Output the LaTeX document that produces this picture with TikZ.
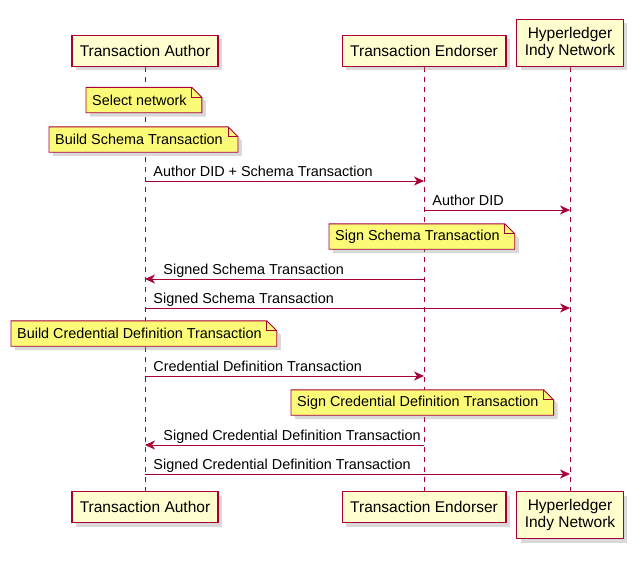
\documentclass[tikz,border=0pt]{standalone}
\usepackage{fontspec}
\setmainfont{Liberation Sans}
\usetikzlibrary{arrows.meta,shadows,backgrounds}
\definecolor{umlred}{HTML}{A80036}
\definecolor{umlbox}{HTML}{FEFECE}
\definecolor{umlnote}{HTML}{FBFB77}
\begin{document}
\begin{tikzpicture}[x=1pt,y=-1pt,>={Stealth[length=10pt,width=9pt,inset=3pt]},
participant/.style={draw=umlred,fill=umlbox,line width=1.4pt,inner xsep=8pt,inner ysep=0pt,minimum height=31pt,align=center,
  font=\fontsize{15.5}{16.5}\selectfont,drop shadow={shadow xshift=4pt,shadow yshift=-4pt,opacity=.3}},
note/.style={anchor=west,inner xsep=6pt,inner ysep=0pt,minimum height=25pt,font=\fontsize{14.4}{16}\selectfont},
notebg/.style={draw=umlred,fill=umlnote,line width=.9pt,drop shadow={shadow xshift=4pt,shadow yshift=-4pt,opacity=.3}},
lifeline/.style={draw=umlred,line width=.9pt,dash pattern=on 5pt off 5pt},
msg/.style={draw=umlred,line width=.9pt},
lbl/.style={anchor=base west,inner sep=0pt,yshift=5pt,font=\fontsize{14.4}{16}\selectfont}]
\useasboundingbox (0,0) rectangle (644,563);
\draw (145,67) node[participant,anchor=south] (ta) {Transaction Author};
\draw (424,67) node[participant,anchor=south] (te) {Transaction Endorser};
\draw (570,67) node[participant,anchor=south,minimum height=47pt] (tn) {Hyperledger\\Indy Network};
\draw (145,491) node[participant,anchor=north] (tab) {Transaction Author};
\draw (424,491) node[participant,anchor=north] (teb) {Transaction Endorser};
\draw (570,491) node[participant,anchor=north,minimum height=47pt] (tnb) {Hyperledger\\Indy Network};
\draw (86,100) node[note] (selnet) {Select network};
\draw (49,139.5) node[note] (bschema) {Build Schema Transaction};
\draw (329,236.5) node[note] (sschema) {Sign Schema Transaction};
\draw (11,333.5) node[note] (bcreddef) {Build Credential Definition Transaction};
\draw (291,402.5) node[note] (screddef) {Sign Credential Definition Transaction};
\begin{scope}[on background layer]
\draw[lifeline] (ta) -- (tab);
\draw[lifeline] (te) -- (teb);
\draw[lifeline] (tn) -- (tnb);
\foreach \n in {selnet,bschema,sschema,bcreddef,screddef} {
  \filldraw[notebg] (\n.south west) -- (\n.north west) -- ([xshift=-1pt]\n.north east)
    -- ([xshift=9pt,yshift=-10pt]\n.north east) -- ([xshift=9pt]\n.south east) -- cycle;
  \draw[umlred,line width=.9pt] ([xshift=-1pt]\n.north east) -- ([xshift=-1pt,yshift=-10pt]\n.north east)
    -- ([xshift=9pt,yshift=-10pt]\n.north east);
}
\end{scope}
\draw[msg,->] (ta |- 0,181) node[lbl,xshift=8pt] {Author DID + Schema Transaction} -- (te |- 0,181);
\draw[msg,->] (te |- 0,210) node[lbl,xshift=8pt] {Author DID} -- (tn |- 0,210);
\draw[msg,->] (te |- 0,279) -- (ta |- 0,279) node[lbl,xshift=18pt] {Signed Schema Transaction};
\draw[msg,->] (ta |- 0,308) node[lbl,xshift=8pt] {Signed Schema Transaction} -- (tn |- 0,308);
\draw[msg,->] (ta |- 0,376) node[lbl,xshift=8pt] {Credential Definition Transaction} -- (te |- 0,376);
\draw[msg,->] (te |- 0,445) -- (ta |- 0,445) node[lbl,xshift=18pt] {Signed Credential Definition Transaction};
\draw[msg,->] (ta |- 0,474) node[lbl,xshift=8pt] {Signed Credential Definition Transaction} -- (tn |- 0,474);
\end{tikzpicture}
\end{document}
